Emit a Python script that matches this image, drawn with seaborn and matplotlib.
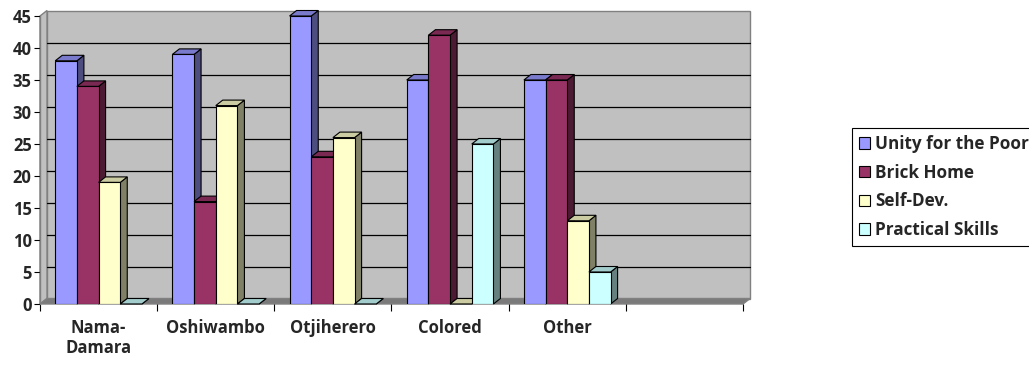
import matplotlib
matplotlib.use("Agg")
import matplotlib.pyplot as plt
import matplotlib.patches as mpatches
import numpy as np
import pandas as pd
import seaborn as sns
from matplotlib.colors import to_rgb

# chart values
categories = ["Nama-\nDamara", "Oshiwambo", "Otjiherero", "Colored", "Other", ""]
series = ["Unity for the Poor", "Brick Home", "Self-Dev.", "Practical Skills"]
unity = [38, 39, 45, 35, 35]
brick = [34, 16, 23, 42, 35]
self_dev = [19, 31, 26, 0, 13]
practical = [0, 0, 0, 25, 5]
y_ticks = [0, 5, 10, 15, 20, 25, 30, 35, 40, 45]

front_colors = ["#9999FF", "#993366", "#FFFFCC", "#CCFFFF"]

rows = []
for name, vals in zip(series, [unity, brick, self_dev, practical]):
    for cat, v in zip(categories, vals):
        rows.append({"group": cat, "series": name, "value": v})
df = pd.DataFrame(rows)

sns.set_theme(style="white")
plt.rcParams["font.family"] = ["Open Sans", "DejaVu Sans"]

W, H = 1029, 365
fig = plt.figure(figsize=(W / 100, H / 100), dpi=100)
ax = fig.add_axes([40 / W, 61 / H, 703 / W, 288 / H])

sns.barplot(data=df, x="group", y="value", hue="series", order=categories,
            hue_order=series, palette=front_colors, width=0.74, saturation=1,
            errorbar=None, legend=False, edgecolor="black", linewidth=0.8, ax=ax)

xmin, xmax = -0.5, len(categories) - 0.5
ymax = y_ticks[-1]
ax.set_xlim(xmin, xmax)
ax.set_ylim(0, ymax)
ax.set_facecolor("white")

# depth offset of the 3d look, pixels -> data units
dx = 7 * (xmax - xmin) / 703
dy = 5.5 * ymax / 288

wall = "#C0C0C0"
edge = "#808080"
# back wall, side wall, floor
ax.add_patch(mpatches.Polygon([(xmin + dx, dy), (xmax + dx, dy), (xmax + dx, ymax + dy), (xmin + dx, ymax + dy)],
                              facecolor=wall, edgecolor=edge, lw=1, zorder=0.2, clip_on=False))
ax.add_patch(mpatches.Polygon([(xmin, 0), (xmin + dx, dy), (xmin + dx, ymax + dy), (xmin, ymax)],
                              facecolor=wall, edgecolor=edge, lw=1, zorder=0.3, clip_on=False))
ax.add_patch(mpatches.Polygon([(xmin, 0), (xmax, 0), (xmax + dx, dy), (xmin + dx, dy)],
                              facecolor="#7A7A7A", edgecolor=edge, lw=1, zorder=0.4, clip_on=False))
for v in y_ticks[1:-1]:
    ax.plot([xmin + dx, xmax + dx], [v + dy, v + dy], color="black", lw=0.9, zorder=0.5, clip_on=False)

# top and side faces of every bar, painted left to right
bars = []
for j, cont in enumerate(ax.containers):
    for p in cont.patches:
        if np.isnan(p.get_height()):
            continue
        bars.append((p.get_x(), j, p))
bars.sort(key=lambda b: b[0])
for k, (x0, j, p) in enumerate(bars):
    w, h = p.get_width(), p.get_height()
    base = np.array(to_rgb(front_colors[j]))
    z = 2 + k * 0.1
    ax.add_patch(mpatches.Polygon([(x0 + w, 0), (x0 + w + dx, dy), (x0 + w + dx, h + dy), (x0 + w, h)],
                                  facecolor=base * 0.5, edgecolor="black", lw=0.8, zorder=z, clip_on=False))
    ax.add_patch(mpatches.Polygon([(x0, h), (x0 + w, h), (x0 + w + dx, h + dy), (x0 + dx, h + dy)],
                                  facecolor=base * 0.8, edgecolor="black", lw=0.8, zorder=z, clip_on=False))
    p.set_zorder(z + 0.05)

for s in ax.spines.values():
    s.set_visible(False)
ax.plot([xmin, xmin], [0, ymax], color=edge, lw=1, zorder=0.6, clip_on=False)

ax.set_yticks(y_ticks)
ax.set_yticklabels([str(v) for v in y_ticks], fontweight="bold", fontsize=12)
ax.tick_params(axis="y", left=True, length=4, width=0.8, color="black", pad=2)

ax.set_xticks(range(len(categories)))
ax.set_xticklabels(categories, fontweight="bold", fontsize=12, linespacing=1.15)
ax.set_xticks(np.arange(xmin, xmax + 0.5), minor=True)
ax.tick_params(axis="x", which="major", length=0, pad=11)
ax.tick_params(axis="x", which="minor", bottom=True, length=5, width=0.8, color="black")
ax.set_xlabel("")
ax.set_ylabel("")

handles = [mpatches.Patch(facecolor=c, edgecolor="black", lw=0.8) for c in front_colors]
leg = fig.legend(handles, series, loc="upper left", bbox_to_anchor=(852 / W, 1 - 128 / H),
                 frameon=True, fancybox=False, edgecolor="black", framealpha=1,
                 handlelength=0.65, handleheight=0.65, handletextpad=0.3,
                 labelspacing=0.62, borderpad=0.42, borderaxespad=0,
                 prop={"weight": "bold", "size": 12.3})
leg.get_frame().set_linewidth(0.8)

fig.savefig("out.png", dpi=100)
